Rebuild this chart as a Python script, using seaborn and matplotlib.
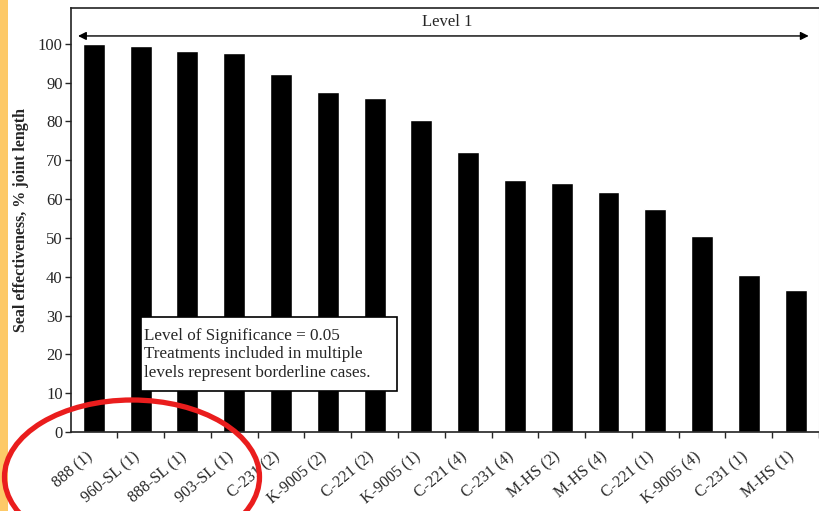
import matplotlib
matplotlib.use("Agg")
import matplotlib.pyplot as plt
import matplotlib.patches as mpatches
import matplotlib.transforms as mtransforms
import seaborn as sns
import numpy as np

# treatment labels and seal effectiveness values
treatments = ['888 (1)', '960-SL (1)', '888-SL (1)', '903-SL (1)', 'C-231 (2)',
              'K-9005 (2)', 'C-221 (2)', 'K-9005 (1)', 'C-221 (4)', 'C-231 (4)',
              'M-HS (2)', 'M-HS (4)', 'C-221 (1)', 'K-9005 (4)', 'C-231 (1)', 'M-HS (1)']
effectiveness = [100, 99.3, 98.1, 97.7, 92.3, 87.6, 86.1, 80.4, 72.0, 64.9,
                 64.2, 61.8, 57.5, 50.4, 40.5, 36.5]
yticks = list(range(0, 101, 10))

sns.set_style("ticks")
plt.rcParams['font.family'] = ['Liberation Serif', 'DejaVu Serif']

fig = plt.figure(figsize=(8.2, 5.11), dpi=100)
ax = fig.add_axes([71/820, 1-432/511, 748/820, 424/511])

sns.barplot(x=treatments, y=effectiveness, color='black', width=0.47,
            saturation=1, ax=ax)

ax.set_xlim(-0.49, 15.42)
ax.set_ylim(0, 109.2)
ax.set_yticks(yticks)
ax.tick_params(axis='y', labelsize=12, length=4, width=1, direction='out', pad=2)
ax.set_xticks(np.arange(len(treatments)))
ax.set_xticklabels(treatments, rotation=40, ha='right', rotation_mode='anchor', fontsize=11.5)
ax.tick_params(axis='x', which='major', length=0, pad=12)
# nudge the rotated labels a little left, like the original
shift = mtransforms.ScaledTranslation(-8/100, 0, fig.dpi_scale_trans)
for lab in ax.get_xticklabels():
    lab.set_transform(lab.get_transform() + shift)
ax.set_xticks(np.arange(len(treatments)) + 0.5, minor=True)
ax.tick_params(axis='x', which='minor', length=4, width=1, direction='out')
ax.set_xlabel('')
ax.set_ylabel('Seal effectiveness, % joint length', fontsize=11.5, fontweight='bold', labelpad=6)

for s in ['left', 'bottom', 'top']:
    ax.spines[s].set_color('#222222')
    ax.spines[s].set_linewidth(1.2)
ax.spines['right'].set_color('#dddddd')

# level 1 double arrow
ax.annotate('', xy=(15.28, 102), xytext=(-0.34, 102),
            arrowprops=dict(arrowstyle='<|-|>', color='black', lw=1,
                            mutation_scale=12, shrinkA=0, shrinkB=0))
ax.text(7.55, 105.6, 'Level 1', ha='center', va='center', fontsize=12)

# significance note box
ax.add_patch(mpatches.Rectangle((1.015, 10.6), 5.455, 19.0, facecolor='white',
                                edgecolor='black', lw=1.2, zorder=4))
ax.text(1.07, 20.0, 'Level of Significance = 0.05\nTreatments included in multiple\nlevels represent borderline cases.',
        ha='left', va='center', fontsize=12.3, linespacing=1.2, zorder=5)

# orange strip and red highlight ellipse
fig.patches.append(mpatches.Rectangle((0, 0), 8/820, 1, transform=fig.transFigure,
                                      facecolor='#fdc967', edgecolor='none'))
fig.patches.append(mpatches.Ellipse((132/820, 1-477/511), 255/820, 154/511,
                                    transform=fig.transFigure, fill=False,
                                    edgecolor='#ea1d1d', lw=3.8))

fig.savefig('out.png', dpi=100)
